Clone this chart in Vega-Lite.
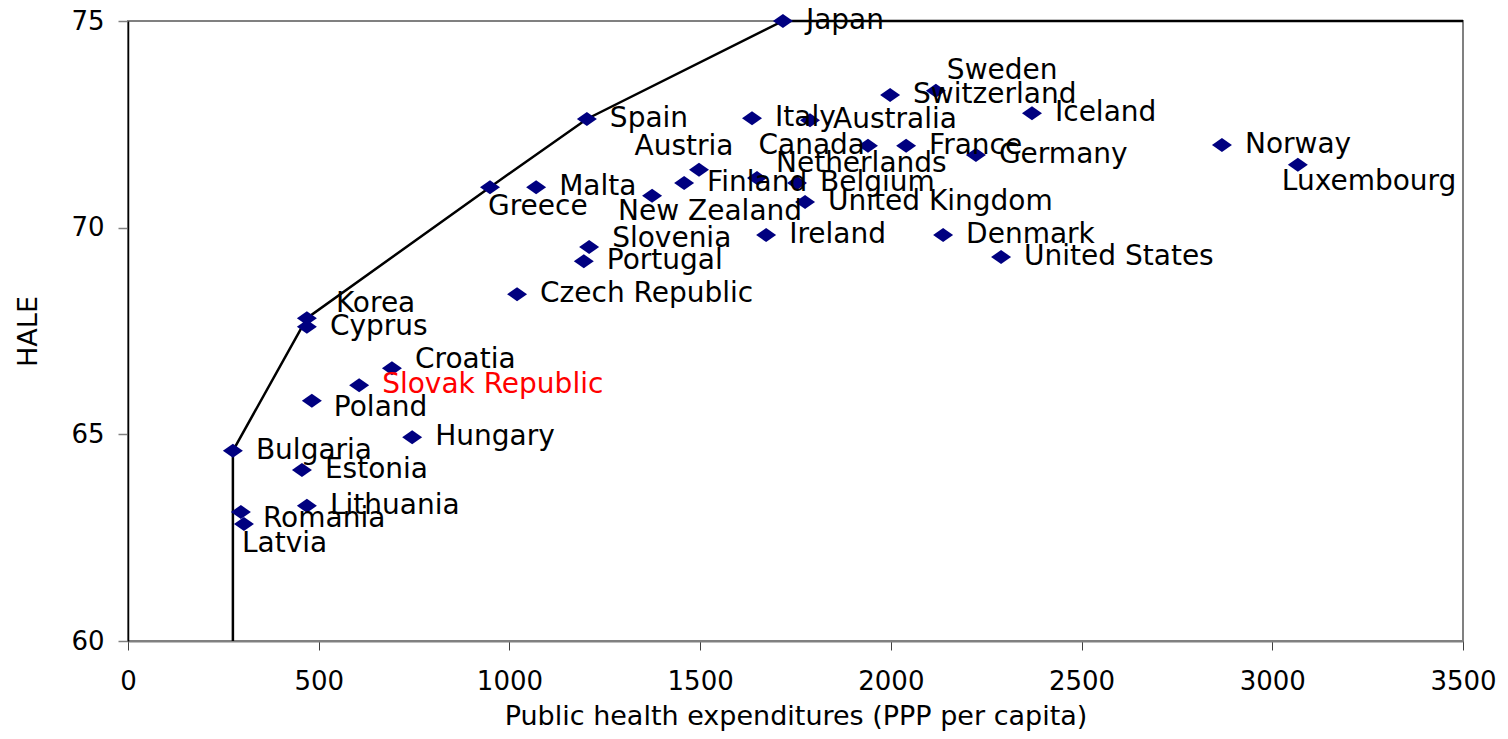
{
  "$schema": "https://vega.github.io/schema/vega-lite/v6.json",
  "autosize": {"type": "none"},
  "padding": {"left": 128, "top": 21, "right": 45, "bottom": 98},
  "width": 1335,
  "height": 620,
  "background": "white",
  "config": {
    "view": {"stroke": "#808080", "strokeWidth": 2},
    "font": "DejaVu Sans",
    "text": {"font": "DejaVu Sans", "fontSize": 28, "color": "black", "baseline": "middle"}
  },
  "datasets": {
    "countries": [
      {"country": "Japan", "pe": 1717, "hale": 75.0},
      {"country": "Spain", "pe": 1203, "hale": 72.63},
      {"country": "Greece", "pe": 949, "hale": 70.98},
      {"country": "Malta", "pe": 1070, "hale": 70.98},
      {"country": "Korea", "pe": 469, "hale": 67.81},
      {"country": "Cyprus", "pe": 469, "hale": 67.6},
      {"country": "Bulgaria", "pe": 275, "hale": 64.6},
      {"country": "Romania", "pe": 296, "hale": 63.12},
      {"country": "Latvia", "pe": 304, "hale": 62.83},
      {"country": "Lithuania", "pe": 469, "hale": 63.27},
      {"country": "Estonia", "pe": 456, "hale": 64.14},
      {"country": "Poland", "pe": 482, "hale": 65.81},
      {"country": "Slovak Republic", "pe": 606, "hale": 66.19},
      {"country": "Croatia", "pe": 692, "hale": 66.6},
      {"country": "Hungary", "pe": 745, "hale": 64.93},
      {"country": "Czech Republic", "pe": 1020, "hale": 68.39},
      {"country": "Portugal", "pe": 1195, "hale": 69.19},
      {"country": "Slovenia", "pe": 1209, "hale": 69.53},
      {"country": "New Zealand", "pe": 1374, "hale": 70.77},
      {"country": "Austria", "pe": 1497, "hale": 71.4},
      {"country": "Finland", "pe": 1458, "hale": 71.08},
      {"country": "Italy", "pe": 1636, "hale": 72.65},
      {"country": "Australia", "pe": 1788, "hale": 72.6},
      {"country": "Netherlands", "pe": 1649, "hale": 71.2},
      {"country": "Belgium", "pe": 1754, "hale": 71.08},
      {"country": "Canada", "pe": 1940, "hale": 71.98},
      {"country": "France", "pe": 2040, "hale": 71.98},
      {"country": "United Kingdom", "pe": 1775, "hale": 70.62},
      {"country": "Ireland", "pe": 1673, "hale": 69.82},
      {"country": "Denmark", "pe": 2137, "hale": 69.82},
      {"country": "United States", "pe": 2289, "hale": 69.29},
      {"country": "Germany", "pe": 2223, "hale": 71.76},
      {"country": "Switzerland", "pe": 1998, "hale": 73.21},
      {"country": "Sweden", "pe": 2118, "hale": 73.31},
      {"country": "Iceland", "pe": 2370, "hale": 72.77},
      {"country": "Norway", "pe": 2868, "hale": 72.0},
      {"country": "Luxembourg", "pe": 3067, "hale": 71.52}
    ],
    "frontier": [
      {"pe": 275, "hale": 60},
      {"pe": 275, "hale": 64.6},
      {"pe": 469, "hale": 67.81},
      {"pe": 949, "hale": 70.98},
      {"pe": 1203, "hale": 72.63},
      {"pe": 1717, "hale": 75},
      {"pe": 3500, "hale": 75}
    ]
  },
  "encoding": {
    "x": {
      "field": "pe", "type": "quantitative",
      "scale": {"domain": [0, 3500], "nice": false, "zero": false},
      "axis": {
        "title": "Public health expenditures (PPP per capita)",
        "values": [0, 500, 1000, 1500, 2000, 2500, 3000, 3500],
        "format": "d",
        "grid": false,
        "domainColor": "#808080", "domainWidth": 2,
        "tickColor": "#404040", "tickSize": 9, "tickWidth": 1,
        "labelFont": "DejaVu Sans", "labelFontSize": 26, "labelColor": "black",
        "labelPadding": 18, "labelFlush": false, "labelOverlap": false,
        "titleFont": "DejaVu Sans", "titleFontSize": 27, "titleFontWeight": "normal", "titleColor": "black",
        "titlePadding": 9
      }
    },
    "y": {
      "field": "hale", "type": "quantitative",
      "scale": {"domain": [60, 75], "nice": false, "zero": false},
      "axis": {
        "title": "HALE",
        "values": [60, 65, 70, 75],
        "grid": false,
        "domainColor": "black", "domainWidth": 1.5,
        "tickColor": "#808080", "tickSize": 10, "tickWidth": 1.5,
        "labelFont": "DejaVu Sans", "labelFontSize": 26, "labelColor": "black",
        "labelPadding": 14, "labelFlush": false, "labelOverlap": false,
        "titleFont": "DejaVu Sans", "titleFontSize": 27, "titleFontWeight": "normal", "titleColor": "black",
        "titlePadding": 28
      }
    }
  },
  "layer": [
    {
      "data": {"name": "frontier"},
      "mark": {"type": "line", "color": "black", "strokeWidth": 2.5, "clip": false},
      "encoding": {"order": {"field": "hale", "type": "quantitative"}}
    },
    {
      "data": {"name": "countries"},
      "mark": {"type": "point", "shape": "M-1,0L0,-0.7L1,0L0,0.7Z", "filled": true, "color": "#000080", "opacity": 1, "size": 400, "clip": false}
    },
    {
      "data": {"name": "countries"},
      "transform": [{"filter": {"field": "country", "oneOf": ["Japan", "Spain", "Malta", "Cyprus", "Bulgaria", "Estonia", "Lithuania", "Hungary", "Czech Republic", "Portugal", "Finland", "Belgium", "Italy", "Australia", "France", "United Kingdom", "Ireland", "Denmark", "United States", "Switzerland", "Iceland", "Norway", "Germany"]}}],
      "mark": {"type": "text", "align": "left", "dx": 23, "dy": 0},
      "encoding": {"text": {"field": "country"}}
    },
    {
      "data": {"name": "countries"},
      "transform": [{"filter": {"field": "country", "equal": "Slovak Republic"}}],
      "mark": {"type": "text", "align": "left", "dx": 23, "dy": 0, "color": "#FF0000"},
      "encoding": {"text": {"field": "country"}}
    },
    {
      "data": {"name": "countries"},
      "transform": [{"filter": {"field": "country", "oneOf": ["Slovenia", "Croatia"]}}],
      "mark": {"type": "text", "align": "left", "dx": 23, "dy": -8},
      "encoding": {"text": {"field": "country"}}
    },
    {
      "data": {"name": "countries"},
      "transform": [{"filter": {"field": "country", "oneOf": ["Poland", "Romania"]}}],
      "mark": {"type": "text", "align": "left", "dx": 22, "dy": 7},
      "encoding": {"text": {"field": "country"}}
    },
    {
      "data": {"name": "countries"},
      "transform": [{"filter": {"field": "country", "oneOf": ["Korea"]}}],
      "mark": {"type": "text", "align": "left", "dx": 29, "dy": -14},
      "encoding": {"text": {"field": "country"}}
    },
    {
      "data": {"name": "countries"},
      "transform": [{"filter": {"field": "country", "oneOf": ["Netherlands"]}}],
      "mark": {"type": "text", "align": "left", "dx": 19, "dy": -14},
      "encoding": {"text": {"field": "country"}}
    },
    {
      "data": {"name": "countries"},
      "transform": [{"filter": {"field": "country", "oneOf": ["Sweden"]}}],
      "mark": {"type": "text", "align": "left", "dx": 11, "dy": -20},
      "encoding": {"text": {"field": "country"}}
    },
    {
      "data": {"name": "countries"},
      "transform": [{"filter": {"field": "country", "oneOf": ["Canada"]}}],
      "mark": {"type": "text", "align": "right", "dx": -3, "dy": 0},
      "encoding": {"text": {"field": "country"}}
    },
    {
      "data": {"name": "countries"},
      "transform": [{"filter": {"field": "country", "oneOf": ["Austria"]}}],
      "mark": {"type": "text", "align": "center", "dx": -15, "dy": -23},
      "encoding": {"text": {"field": "country"}}
    },
    {
      "data": {"name": "countries"},
      "transform": [{"filter": {"field": "country", "oneOf": ["Greece", "Latvia"]}}],
      "mark": {"type": "text", "align": "left", "dx": -2, "dy": 20},
      "encoding": {"text": {"field": "country"}}
    },
    {
      "data": {"name": "countries"},
      "transform": [{"filter": {"field": "country", "oneOf": ["Luxembourg"]}}],
      "mark": {"type": "text", "align": "left", "dx": -16, "dy": 17},
      "encoding": {"text": {"field": "country"}}
    },
    {
      "data": {"name": "countries"},
      "transform": [{"filter": {"field": "country", "oneOf": ["New Zealand"]}}],
      "mark": {"type": "text", "align": "left", "dx": -34, "dy": 16},
      "encoding": {"text": {"field": "country"}}
    }
  ]
}
